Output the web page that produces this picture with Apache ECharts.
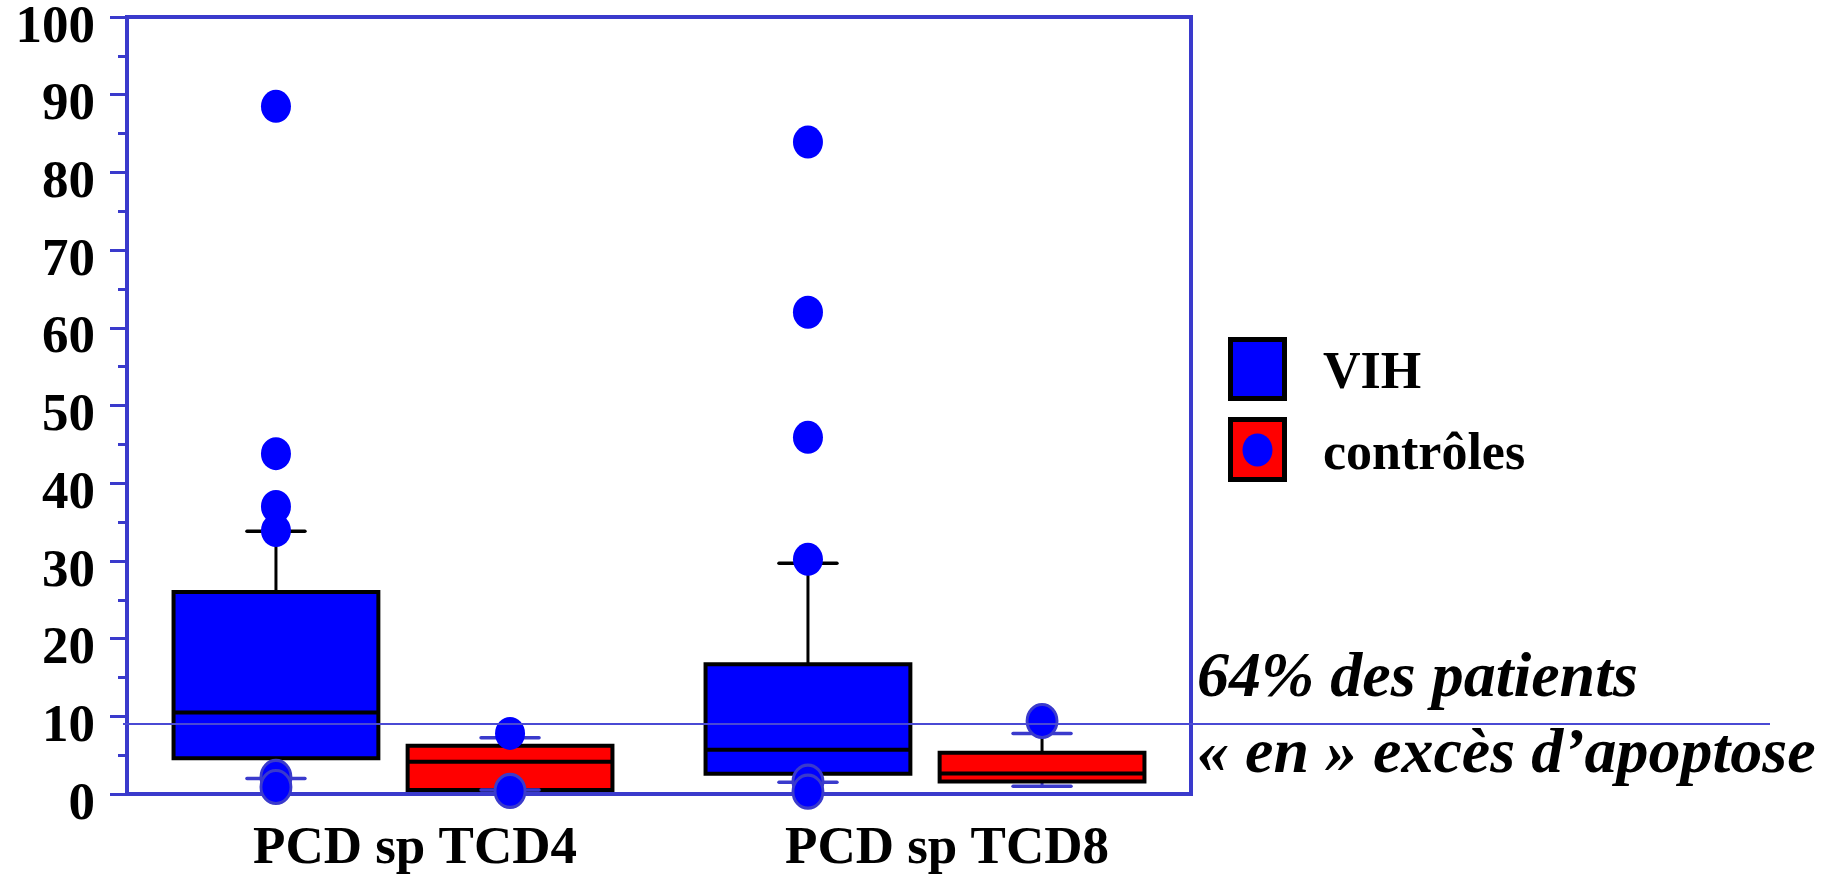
<!DOCTYPE html>
<html>
<head>
<meta charset="utf-8">
<title>PCD sp TCD4 / TCD8</title>
<script src="https://cdn.jsdelivr.net/npm/echarts@6/dist/echarts.min.js"></script>
<style>
  html, body { margin: 0; padding: 0; background: #ffffff; }
  #chart { width: 1837px; height: 880px; }
</style>
</head>
<body>
<div id="chart"></div>
<script>
// Categories on the horizontal axis
const categories = ['PCD sp TCD4', 'PCD sp TCD8'];

// Box statistics per category: [lower whisker, Q1, median, Q3, upper whisker] (%)
const vihStats = [
  [2.0, 4.6, 10.5, 26.0, 33.8],
  [1.5, 2.6, 5.7, 16.7, 29.7]
];
const ctrlStats = [
  [0.5, 0.5, 4.15, 6.2, 7.25],
  [1.0, 1.6, 2.65, 5.3, 7.8]
];

// Individual points: [category index, value]
const vihPoints = [[0, 88.5], [0, 43.8], [0, 37.0], [0, 33.9], [1, 83.9], [1, 62.0], [1, 45.9], [1, 30.2]];
const vihRinged = [[0, 2.2], [0, 0.9], [1, 1.6], [1, 0.3]];
const ctrlPoints = [[0, 7.8]];
const ctrlRinged = [[0, 0.4], [1, 9.4]];

// Y axis
const yTicks = { min: 0, max: 100, interval: 10 };

// Threshold value and its annotation
const THRESHOLD = 9.0;
const noteLines = ['64% des patients', '\u00ab en \u00bb exc\u00e8s d\u2019apoptose'];
const legendNames = ['VIH', 'contr\u00f4les'];

// ---- layout / style constants ----
const AXIS_BLUE = '#3a3acc';
const SERIF = '"Liberation Serif", "Times New Roman", serif';
const BOX_OFFSET = 0.22;   // offset of each box from the category centre (category units)
const BOX_WIDTH = 0.385;   // box width (category units)
const CAP_WIDTH = 0.109;   // whisker cap width (category units)

const chart = echarts.init(document.getElementById('chart'), null, { renderer: 'canvas' });

function boxRenderer(fill, upperCapColor) {
  return function (params, api) {
    const x = api.value(0);
    const pLow = api.coord([x, api.value(1)]);
    const pQ1 = api.coord([x, api.value(2)]);
    const pMed = api.coord([x, api.value(3)]);
    const pQ3 = api.coord([x, api.value(4)]);
    const pHigh = api.coord([x, api.value(5)]);
    const half = api.size([BOX_WIDTH, 0])[0] / 2;
    const capHalf = api.size([CAP_WIDTH, 0])[0] / 2;
    const cx = pMed[0];
    return {
      type: 'group',
      children: [
        { type: 'line', shape: { x1: cx, y1: pQ3[1], x2: cx, y2: pHigh[1] },
          style: { stroke: '#000000', lineWidth: 3 } },
        { type: 'line', shape: { x1: cx, y1: pQ1[1], x2: cx, y2: pLow[1] },
          style: { stroke: AXIS_BLUE, lineWidth: 3 } },
        { type: 'rect', shape: { x: cx - half, y: pQ3[1], width: half * 2, height: pQ1[1] - pQ3[1] },
          style: { fill: fill, stroke: '#000000', lineWidth: 4 } },
        { type: 'line', shape: { x1: cx - half, y1: pMed[1], x2: cx + half, y2: pMed[1] },
          style: { stroke: '#000000', lineWidth: 4 } },
        { type: 'line', shape: { x1: cx - capHalf, y1: pHigh[1], x2: cx + capHalf, y2: pHigh[1] },
          style: { stroke: upperCapColor, lineWidth: 3.5, lineCap: 'round' } },
        { type: 'line', shape: { x1: cx - capHalf, y1: pLow[1], x2: cx + capHalf, y2: pLow[1] },
          style: { stroke: AXIS_BLUE, lineWidth: 3.5, lineCap: 'round' } }
      ]
    };
  };
}

function place(points, offset) {
  return points.map(p => [p[0] + 0.5 + offset, p[1]]);
}

function boxData(stats, offset) {
  return stats.map((s, i) => [i + 0.5 + offset].concat(s));
}

const dotStyle = { color: '#0000ff', opacity: 1 };
const ringStyle = { color: '#0000ff', borderColor: AXIS_BLUE, borderWidth: 3, opacity: 1 };

chart.setOption({
  backgroundColor: '#ffffff',
  animation: false,
  grid: {
    left: 127, right: 646, top: 17, bottom: 86,
    outerBoundsMode: 'none', containLabel: false,
    show: true, borderColor: AXIS_BLUE, borderWidth: 4, backgroundColor: 'transparent'
  },
  xAxis: [
    {
      type: 'category',
      data: categories,
      boundaryGap: true,
      axisLine: { lineStyle: { color: AXIS_BLUE, width: 4 } },
      axisTick: { alignWithLabel: true, length: 10, lineStyle: { color: AXIS_BLUE, width: 3 } },
      axisLabel: {
        color: '#000000', fontFamily: SERIF, fontWeight: 'bold', fontSize: 53,
        margin: 29, padding: [0, 0, 0, 44]
      },
      splitLine: { show: false }
    },
    { type: 'value', min: 0, max: 2, show: false }
  ],
  yAxis: {
    type: 'value',
    min: yTicks.min, max: yTicks.max, interval: yTicks.interval,
    axisLine: { show: true, lineStyle: { color: AXIS_BLUE, width: 4 } },
    axisTick: { show: true, length: 17, lineStyle: { color: AXIS_BLUE, width: 3 } },
    minorTick: { show: true, splitNumber: 2, length: 9, lineStyle: { color: AXIS_BLUE, width: 3 } },
    splitLine: { show: false },
    axisLabel: {
      color: '#000000', fontFamily: SERIF, fontWeight: 'bold', fontSize: 53,
      margin: 32, verticalAlign: 'top', lineHeight: 22
    }
  },
  series: [
    { name: 'VIH', type: 'custom', xAxisIndex: 1, renderItem: boxRenderer('#0000ff', '#000000'),
      data: boxData(vihStats, -BOX_OFFSET), z: 2 },
    { name: 'contr\u00f4les', type: 'custom', xAxisIndex: 1, renderItem: boxRenderer('#ff0000', AXIS_BLUE),
      data: boxData(ctrlStats, BOX_OFFSET), z: 2 },
    { type: 'scatter', xAxisIndex: 1, symbol: 'circle', symbolSize: [30, 33], z: 4,
      itemStyle: dotStyle, data: place(vihPoints, -BOX_OFFSET) },
    { type: 'scatter', xAxisIndex: 1, symbol: 'circle', symbolSize: [30, 33], z: 4,
      itemStyle: ringStyle, data: place(vihRinged, -BOX_OFFSET) },
    { type: 'scatter', xAxisIndex: 1, symbol: 'circle', symbolSize: [30, 33], z: 4,
      itemStyle: dotStyle, data: place(ctrlPoints, BOX_OFFSET) },
    { type: 'scatter', xAxisIndex: 1, symbol: 'circle', symbolSize: [30, 33], z: 4,
      itemStyle: ringStyle, data: place(ctrlRinged, BOX_OFFSET) }
  ]
});

// Threshold line (runs past the plot into the annotation area), annotation and legend
const yThr = chart.convertToPixel({ yAxisIndex: 0 }, THRESHOLD);
const noteFont = { fontFamily: SERIF, fontWeight: 'bold', fontStyle: 'italic', fontSize: 64, fill: '#000000' };
const legendFont = { fontFamily: SERIF, fontWeight: 'bold', fontSize: 52, fill: '#000000' };

chart.setOption({
  graphic: [
    { type: 'line', z: 100, shape: { x1: 123, y1: yThr, x2: 1770, y2: yThr },
      style: { stroke: '#4a4ad4', lineWidth: 2 } },
    { type: 'text', z: 100, x: 1197, y: yThr - 45,
      style: Object.assign({ text: noteLines[0], verticalAlign: 'middle' }, noteFont) },
    { type: 'text', z: 100, x: 1197, y: yThr + 31,
      style: Object.assign({ text: noteLines[1], verticalAlign: 'middle' }, noteFont) },
    { type: 'rect', z: 100, shape: { x: 1230.5, y: 339.5, width: 54, height: 59 },
      style: { fill: '#0000ff', stroke: '#000000', lineWidth: 5 } },
    { type: 'rect', z: 100, shape: { x: 1230.5, y: 419.5, width: 54, height: 60 },
      style: { fill: '#ff0000', stroke: '#000000', lineWidth: 5 } },
    { type: 'ellipse', z: 101, shape: { cx: 1257.5, cy: 450, rx: 15, ry: 16.5 },
      style: { fill: '#0000ff' } },
    { type: 'text', z: 100, x: 1323, y: 374.5,
      style: Object.assign({ text: legendNames[0], verticalAlign: 'middle' }, legendFont) },
    { type: 'text', z: 100, x: 1323, y: 455.5,
      style: Object.assign({ text: legendNames[1], verticalAlign: 'middle' }, legendFont) }
  ]
});
</script>
</body>
</html>
